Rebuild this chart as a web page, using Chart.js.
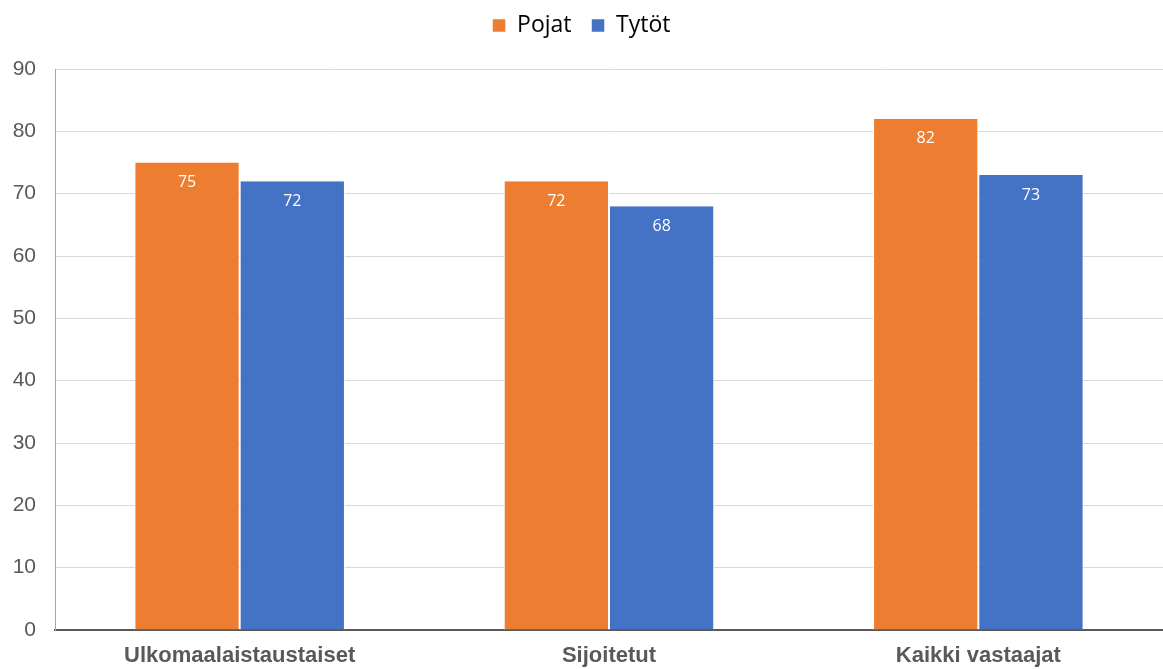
<!DOCTYPE html>
<html>
<head>
<meta charset="utf-8">
<script src="https://cdn.jsdelivr.net/npm/chart.js@4/dist/chart.umd.min.js"></script>
<style>
  html, body { margin: 0; padding: 0; background: #ffffff; }
  #wrap { width: 1163px; height: 669px; position: relative; }
</style>
</head>
<body>
<div id="wrap"><canvas id="c" width="1163" height="669"></canvas></div>
<script>
// Group labels and per-series values
const categories = ["Ulkomaalaistaustaiset", "Sijoitetut", "Kaikki vastaajat"];
const seriesNames = ["Pojat", "Tytöt"];
const pojat = [75, 72, 82];
const tytot = [72, 68, 73];
const yTicks = [0, 10, 20, 30, 40, 50, 60, 70, 80, 90];

const ORANGE = "#ED7D31";
const BLUE = "#4472C4";

// Writes each bar's value just inside its top edge
const valueLabels = {
  id: "valueLabels",
  afterDatasetsDraw(chart) {
    const ctx = chart.ctx;
    ctx.save();
    ctx.fillStyle = "#ffffff";
    ctx.font = "16px 'Open Sans', 'Noto Sans', sans-serif";
    ctx.textAlign = "center";
    ctx.textBaseline = "middle";
    chart.data.datasets.forEach((ds, i) => {
      const meta = chart.getDatasetMeta(i);
      meta.data.forEach((el, j) => {
        ctx.fillText(String(ds.data[j]), el.x, el.y + 20);
      });
    });
    ctx.restore();
  }
};

// Fixed legend band height above the plot
const legendHeight = {
  id: "legendHeight",
  beforeInit(chart) {
    const lg = chart.legend;
    if (!lg) return;
    const orig = lg.fit;
    lg.fit = function () {
      orig.call(this);
      this.height = 75;
    };
  }
};

new Chart(document.getElementById("c"), {
  type: "bar",
  data: {
    labels: categories,
    datasets: [
      { label: seriesNames[0], data: pojat, backgroundColor: ORANGE, borderColor: "#ffffff", borderWidth: { left: 1, right: 1, top: 0, bottom: 0 } },
      { label: seriesNames[1], data: tytot, backgroundColor: BLUE, borderColor: "#ffffff", borderWidth: { left: 1, right: 1, top: 0, bottom: 0 } }
    ]
  },
  options: {
    responsive: false,
    animation: false,
    layout: { padding: { top: -6, left: 0, right: 0, bottom: 0 } },
    datasets: { bar: { categoryPercentage: 0.57, barPercentage: 1.0 } },
    plugins: {
      legend: {
        position: "top",
        labels: {
          boxWidth: 13,
          boxHeight: 13,
          padding: 20,
          color: "#000000",
          font: { family: "'Open Sans', 'Noto Sans', sans-serif", size: 23 }
        }
      },
      tooltip: { enabled: false }
    },
    scales: {
      x: {
        grid: { display: false, drawTicks: false },
        border: { display: true, color: "#595959", width: 2 },
        ticks: {
          color: "#595959",
          padding: 13,
          font: { family: "'Liberation Sans', Arial, sans-serif", size: 22, weight: "bold" }
        },
        afterFit(scale) { scale.height = 39; }
      },
      y: {
        min: 0,
        max: 90,
        afterBuildTicks(scale) { scale.ticks = yTicks.map(v => ({ value: v })); },
        grid: { color: "#d9d9d9", lineWidth: 1, drawTicks: false },
        border: { display: true, color: "#a6a6a6", width: 1 },
        ticks: {
          color: "#595959",
          padding: 19,
          font: { family: "'Liberation Sans', Arial, sans-serif", size: 21 }
        },
        afterFit(scale) { scale.width = 55; }
      }
    }
  },
  plugins: [valueLabels, legendHeight]
});
</script>
</body>
</html>
